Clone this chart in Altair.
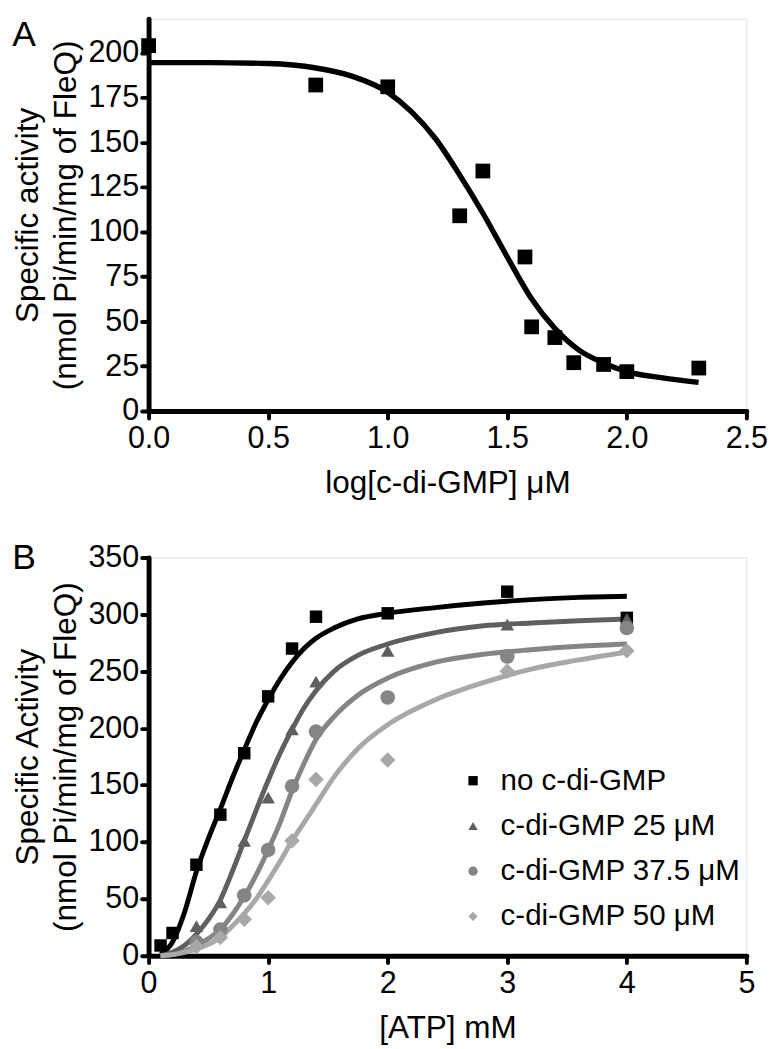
import altair as alt
import pandas as pd

FONT = "Liberation Sans"

# ---------------- Panel A ----------------
a_logc = [0.0, 0.699, 1.0, 1.301, 1.398, 1.574, 1.602, 1.699, 1.778, 1.903, 2.0, 2.301]
a_activity = [204, 182, 181, 109, 134, 86, 47, 41, 27, 26, 22, 24]
a_fit_logc = [0.0, 0.25, 0.5, 0.7, 0.85, 1.0, 1.1, 1.2, 1.3, 1.4, 1.5, 1.6, 1.7, 1.8, 1.9, 2.0, 2.15, 2.3]
a_fit_activity = [194.5, 194.5, 194, 191.5, 187, 178, 167, 152, 132, 110, 86, 63, 46, 34, 27, 22, 18.5, 16]
a_x_ticks = [0.0, 0.5, 1.0, 1.5, 2.0, 2.5]
a_y_ticks = [0, 25, 50, 75, 100, 125, 150, 175, 200]

# ---------------- Panel B ----------------
b_series = ["no c-di-GMP", "c-di-GMP 25 μM", "c-di-GMP 37.5 μM", "c-di-GMP 50 μM"]
b_colors = ["#000000", "#5f5f5f", "#858585", "#a8a8a8"]
b_shapes = ["square", "triangle-up", "circle", "diamond"]
b_marker_keys = ["sq", "tri", "cir", "dia"]
b_marker_sizes = [160, 250, 160, 190]

b_none_atp = [0.1, 0.2, 0.4, 0.6, 0.8, 1.0, 1.2, 1.4, 2.0, 3.0, 4.0]
b_none_act = [9, 20, 80, 124, 178, 228, 270, 298, 301, 320, 297]
b_25_atp = [0.4, 0.6, 0.8, 1.0, 1.2, 1.4, 2.0, 3.0, 4.0]
b_25_act = [26, 47, 101, 139, 199, 241, 268, 291, 296]
b_375_atp = [0.4, 0.6, 0.8, 1.0, 1.2, 1.4, 2.0, 3.0, 4.0]
b_375_act = [12, 23, 53, 93, 149, 197, 227, 263, 288]
b_50_atp = [0.4, 0.6, 0.8, 1.0, 1.2, 1.4, 2.0, 3.0, 4.0]
b_50_act = [8, 16, 32, 51, 101, 155, 172, 250, 268]

b_fit_atp = [0.1, 0.2, 0.3, 0.4, 0.5, 0.6, 0.7, 0.8, 0.9, 1.0, 1.1, 1.2, 1.3, 1.4,
             1.55, 1.75, 2.0, 2.4, 2.8, 3.2, 3.6, 4.0]
b_fit_none = [1, 12, 38, 74, 103, 129, 156, 181, 205, 225, 243, 258, 270, 279,
              288, 296, 301, 306, 310, 313, 315, 316]
b_fit_25 = [0, 3, 9, 19, 32, 49, 74, 101, 128, 154, 178, 199, 218, 233,
            250, 264, 274, 284, 290, 292.5, 294.5, 296]
b_fit_375 = [0, 1, 4, 9, 15, 23, 36, 52, 71, 93, 117, 145, 169, 190,
             210, 229, 244, 258, 265, 269, 272, 274]
b_fit_50 = [0, 1, 3, 6, 10, 16, 26, 37, 50, 66, 83, 101, 117, 133,
            157, 182, 203, 225, 240, 252, 260, 267]
b_x_ticks = [0, 1, 2, 3, 4, 5]
b_y_ticks = [0, 50, 100, 150, 200, 250, 300, 350]

# ---------------- tables ----------------
df_a = pd.DataFrame({"x": a_logc, "y": a_activity})
df_a_fit = pd.DataFrame({"x": a_fit_logc, "y": a_fit_activity})

pts = []
for name, key, xs, ys in zip(b_series, b_marker_keys,
                             [b_none_atp, b_25_atp, b_375_atp, b_50_atp],
                             [b_none_act, b_25_act, b_375_act, b_50_act]):
    for xv, yv in zip(xs, ys):
        pts.append({"series": name, "marker": key, "x": xv, "y": yv})
df_b = pd.DataFrame(pts)

fit_frames = [pd.DataFrame({"x": b_fit_atp, "y": ys})
              for ys in [b_fit_none, b_fit_25, b_fit_375, b_fit_50]]

axis_style = dict(
    domainColor="black", domainWidth=5, domainCap="round",
    tickColor="black", tickWidth=4, tickSize=7, tickCap="round",
    labelFont=FONT, labelFontSize=31, labelColor="black",
    titleFont=FONT, titleFontSize=32, titleFontWeight="normal", titleColor="black",
    grid=False, labelFlush=False,
)


def x_axis(values, fmt, title):
    return alt.Axis(values=values, format=fmt, title=title, labelPadding=6,
                    titlePadding=15, **axis_style)


def y_axis(values, title):
    return alt.Axis(values=values, format="d", title=title, labelPadding=3,
                    titlePadding=6, titleLineHeight=38, **axis_style)


def panel_title(letter):
    return alt.TitleParams(text=letter, anchor="start", frame="bounds", fontSize=36,
                           font=FONT, fontWeight="normal", color="black", offset=-36)


W = 608

# Panel A
xa = alt.X("x:Q", scale=alt.Scale(domain=[0, 2.5], nice=False, zero=False),
           axis=x_axis(a_x_ticks, ".1f", "log[c-di-GMP] μM"))
ya = alt.Y("y:Q", scale=alt.Scale(domain=[0, 219], nice=False),
           axis=y_axis(a_y_ticks, ["Specific activity", "(nmol Pi/min/mg of FleQ)"]))

a_line = alt.Chart(df_a_fit).mark_line(color="black", strokeWidth=5.5,
                                       interpolate="monotone").encode(x=xa, y=ya)
a_pts = alt.Chart(df_a).mark_point(shape="square", filled=True, size=225,
                                   color="black", opacity=1).encode(x=xa, y=ya)
chart_a = alt.layer(a_line, a_pts).properties(width=W, height=399,
                                               title=panel_title("A"))

# Panel B
xb = alt.X("x:Q", scale=alt.Scale(domain=[0, 5], nice=False, zero=False),
           axis=x_axis(b_x_ticks, "d", "[ATP] mM"))
yb = alt.Y("y:Q", scale=alt.Scale(domain=[0, 350], nice=False),
           axis=y_axis(b_y_ticks, ["Specific Activity", "(nmol Pi/min/mg of FleQ)"]))

legend = alt.Legend(title=None, orient="none", legendX=315, legendY=212,
                    labelFont=FONT, labelFontSize=30, labelColor="black",
                    labelLimit=400, symbolSize=90, rowPadding=16, labelOffset=13,
                    padding=0, symbolStrokeWidth=0)

b_lines = [
    alt.Chart(df).mark_line(color=c, strokeWidth=5, interpolate="monotone").encode(x=xb, y=yb)
    for df, c in zip(fit_frames, b_colors)
]
b_pts = alt.Chart(df_b).mark_point(filled=True, opacity=1).encode(
    x=xb, y=yb,
    color=alt.Color("series:N", scale=alt.Scale(domain=b_series, range=b_colors),
                    legend=legend),
    shape=alt.Shape("series:N", scale=alt.Scale(domain=b_series, range=b_shapes),
                    legend=legend),
    size=alt.Size("marker:O", scale=alt.Scale(domain=b_marker_keys, range=b_marker_sizes),
                  legend=None),
)
chart_b = alt.layer(*b_lines, b_pts).properties(width=W, height=405,
                                                 title=panel_title("B"))

chart = (
    alt.vconcat(chart_a, chart_b, spacing=41)
    .resolve_scale(color="independent", shape="independent", size="independent")
    .resolve_legend(color="independent", shape="independent", size="independent")
    .properties(padding={"left": 3, "top": 0, "right": 0, "bottom": 0},
                background="white")
    .configure_view(stroke=None)
    .configure(font=FONT)
)

chart.save("out.html", embed_options={"renderer": "svg", "actions": False})
